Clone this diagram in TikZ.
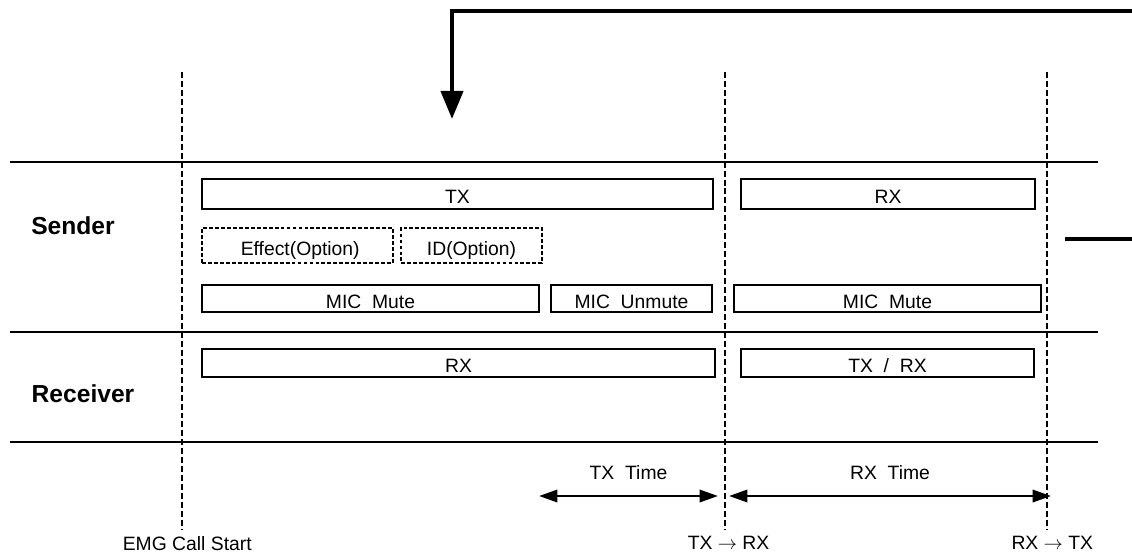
\documentclass[tikz,border=0pt]{standalone}
\usepackage{fontspec}
\setmainfont{Liberation Sans}
\usetikzlibrary{arrows.meta,fit}
\tikzset{
    lane/.style={line width=1pt},
    marker/.style={line width=0.9pt,dash pattern=on 3.4pt off 1.7pt},
    slot/.style={draw,line width=0.8pt,inner sep=0pt},
    optslot/.style={slot,dash pattern=on 2.2pt off 1.2pt},
    span/.style={line width=1.5pt,{Triangle[length=10.5pt,width=7pt]}-{Triangle[length=10.5pt,width=7pt]}},
    role/.style={font=\bfseries\fontsize{14}{16}\selectfont},
    tag/.style={font=\fontsize{11}{13}\selectfont},
    slottag/.style={tag,text height=8pt,text depth=0pt,yshift=-1.5pt},
}
\newcommand\Slot[7]{%
    \node[#2,fit={(#3,#4) (#5,#6)}] (#1) {};
    \node[slottag] (#1-text) at (#1) {#7};
}
\begin{document}
\begin{tikzpicture}[x=0.02cm,y=-0.02cm]
    \useasboundingbox (0,0) rectangle (1132,556);
    % lanes
    \draw[lane] (10,162) -- (1098,162);
    \draw[lane] (10,332) -- (1098,332);
    \draw[lane] (10,442) -- (1098,442);
    \node[role] (sender) at (73,226) {Sender};
    \node[role] (receiver) at (83,394) {Receiver};
    % event markers
    \coordinate (Start) at (182,72);
    \coordinate (TxRx) at (725,72);
    \coordinate (RxTx) at (1047,72);
    \draw[marker] (Start) -- (Start |- 0,530) node[tag,below=0pt,xshift=3] (startlbl) {EMG\ Call\ Start};
    \draw[marker] (TxRx) -- (TxRx |- 0,530) node[tag,below=0pt,xshift=2] (txrxlbl) {TX\ $\rightarrow$\ RX};
    \draw[marker] (RxTx) -- (RxTx |- 0,530) node[tag,below=0pt,xshift=3] (rxtxlbl) {RX\ $\rightarrow$\ TX};
    % sender
    \Slot{stx}{slot}{202}{179}{713}{209}{TX}
    \Slot{srx}{slot}{741}{179}{1035}{209}{RX}
    \Slot{effect}{optslot}{202}{228}{393}{263}{\ Effect(Option)}
    \Slot{idopt}{optslot}{401}{228}{542}{263}{ID(Option)}
    \Slot{mute}{slot}{202}{285}{539}{312}{MIC\ \ Mute}
    \Slot{unmute}{slot}{551}{285}{712}{312}{MIC\ \ Unmute}
    \Slot{mutetwo}{slot}{734}{285}{1041}{312}{MIC\ \ Mute}
    % receiver
    \Slot{rrx}{slot}{202}{349}{715}{377}{RX}
    \Slot{rtxrx}{slot}{741}{349}{1034}{377}{TX\ \ /\ \ RX}
    % durations
    \coordinate (txa) at (539,496);
    \coordinate (txb) at (718,496);
    \coordinate (rxa) at (729,496);
    \coordinate (rxb) at (1051,496);
    \draw[span] (txa) -- (txb) node[tag,midway,above=5pt] (txtime) {TX\ \ Time};
    \draw[span] (rxa) -- (rxb) node[tag,midway,above=5pt] (rxtime) {RX\ \ Time};
    % loop back
    \coordinate (back) at (1132,11);
    \coordinate (down) at (452,119);
    \draw[line width=2.5pt,-{Triangle[length=16pt,width=12.5pt]}] (back) -| (down);
    \coordinate (stub) at (1065,239);
    \draw[line width=2.8pt] (stub) -- (1132,239);
\end{tikzpicture}
\end{document}
